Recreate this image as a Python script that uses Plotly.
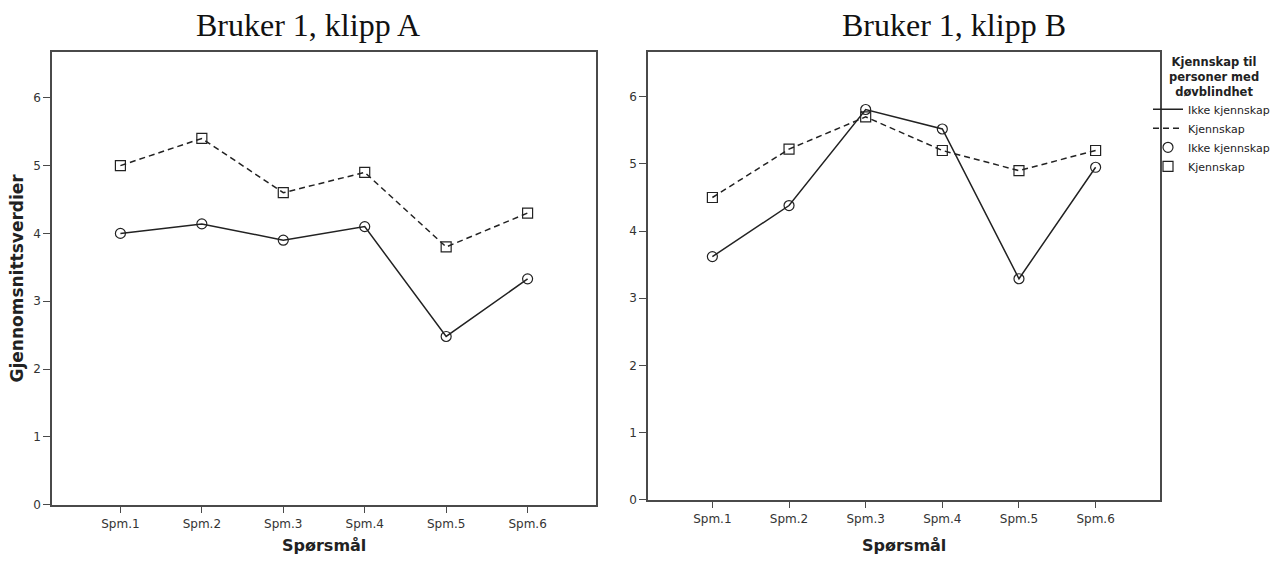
import plotly.graph_objects as go

categories = ["Spm.1", "Spm.2", "Spm.3", "Spm.4", "Spm.5", "Spm.6"]
a_ikke = [4.00, 4.14, 3.90, 4.10, 2.48, 3.33]
a_kjenn = [5.00, 5.40, 4.60, 4.90, 3.80, 4.30]
b_ikke = [3.62, 4.38, 5.81, 5.52, 3.29, 4.95]
b_kjenn = [4.50, 5.22, 5.70, 5.20, 4.90, 5.20]
y_ticks = [0, 1, 2, 3, 4, 5, 6]
panel_titles = ["Bruker 1, klipp A", "Bruker 1, klipp B"]
series_names = ["Ikke kjennskap", "Kjennskap"]
legend_title = "Kjennskap til<br>personer med<br>døvblindhet"
x_title = "Spørsmål"
y_title = "Gjennomsnittsverdier"

W, H = 1276, 565
INK = "#222222"
AXC = "#4a4a4a"
SANS = "DejaVu Sans, Liberation Sans, sans-serif"

fig = go.Figure()

panels = [("x", "y", a_ikke, a_kjenn, False), ("x2", "y2", b_ikke, b_kjenn, True)]
for xa, ya, ikke, kjenn, show in panels:
    for vals, name, dash in [(ikke, series_names[0], "solid"), (kjenn, series_names[1], "6px,4px")]:
        fig.add_trace(go.Scatter(
            x=categories, y=vals, mode="lines", name=name,
            line=dict(color=INK, width=1.5, dash=dash),
            xaxis=xa, yaxis=ya, showlegend=show, hoverinfo="skip"))
    for vals, name, sym in [(ikke, series_names[0], "circle-open"), (kjenn, series_names[1], "square-open")]:
        fig.add_trace(go.Scatter(
            x=categories, y=vals, mode="markers", name=name,
            marker=dict(symbol=sym, size=10, color=INK, line=dict(color=INK, width=1.2)),
            xaxis=xa, yaxis=ya, showlegend=show, hoverinfo="skip"))

def xax(domain, anchor):
    return dict(domain=domain, anchor=anchor, type="category", range=[-0.84, 5.84],
                showline=True, mirror=True, linecolor=AXC, linewidth=1.5,
                ticks="outside", ticklen=7, tickwidth=1.3, tickcolor=AXC,
                showgrid=False, zeroline=False,
                tickfont=dict(family=SANS, size=12, color="#333"))

def yax(domain, anchor):
    return dict(domain=domain, anchor=anchor, range=[0, 6.67], tickvals=y_ticks,
                showline=True, mirror=True, linecolor=AXC, linewidth=1.5,
                ticks="outside", ticklen=7, tickwidth=1.3, tickcolor=AXC,
                showgrid=False, zeroline=False,
                tickfont=dict(family=SANS, size=12, color="#333"))

fig.update_layout(
    width=W, height=H, margin=dict(l=0, r=0, t=0, b=0),
    paper_bgcolor="white", plot_bgcolor="white",
    xaxis=xax([52 / W, 596 / W], "y"),
    yaxis=yax([1 - 511 / H, 1 - 53 / H], "x"),
    xaxis2=xax([648 / W, 1160 / W], "y2"),
    yaxis2=yax([1 - 506 / H, 1 - 52.4 / H], "x2"),
    legend=dict(x=1148 / W, xanchor="left", y=1 - 96 / H, yanchor="top",
                font=dict(family=SANS, size=11, color="#222"),
                bgcolor="rgba(0,0,0,0)", itemwidth=30, tracegroupgap=0),
    showlegend=True,
)

ann = []
for txt, cx in zip(panel_titles, (308, 954)):
    ann.append(dict(text=txt, x=cx / W, y=1 - 25 / H, xref="paper", yref="paper",
                    xanchor="center", yanchor="middle", showarrow=False,
                    font=dict(family="Liberation Serif, serif", size=32, color="#111")))
ann.append(dict(text="<b>%s</b>" % y_title, x=17 / W, y=1 - 282 / H, xref="paper", yref="paper",
                xanchor="center", yanchor="middle", textangle=-90, showarrow=False,
                font=dict(family=SANS, size=17, color="#222")))
for cx in (324, 904):
    ann.append(dict(text="<b>%s</b>" % x_title, x=cx / W, y=1 - 552 / H, xref="paper", yref="paper",
                    xanchor="center", yanchor="middle", showarrow=False,
                    font=dict(family=SANS, size=16, color="#222")))
ann.append(dict(text="<b>%s</b>" % legend_title, x=1214 / W, y=1 - 78 / H, xref="paper", yref="paper",
                xanchor="center", yanchor="middle", align="center", showarrow=False,
                font=dict(family=SANS, size=11.5, color="#222")))
fig.update_layout(annotations=ann)

fig.write_html("out.html")
